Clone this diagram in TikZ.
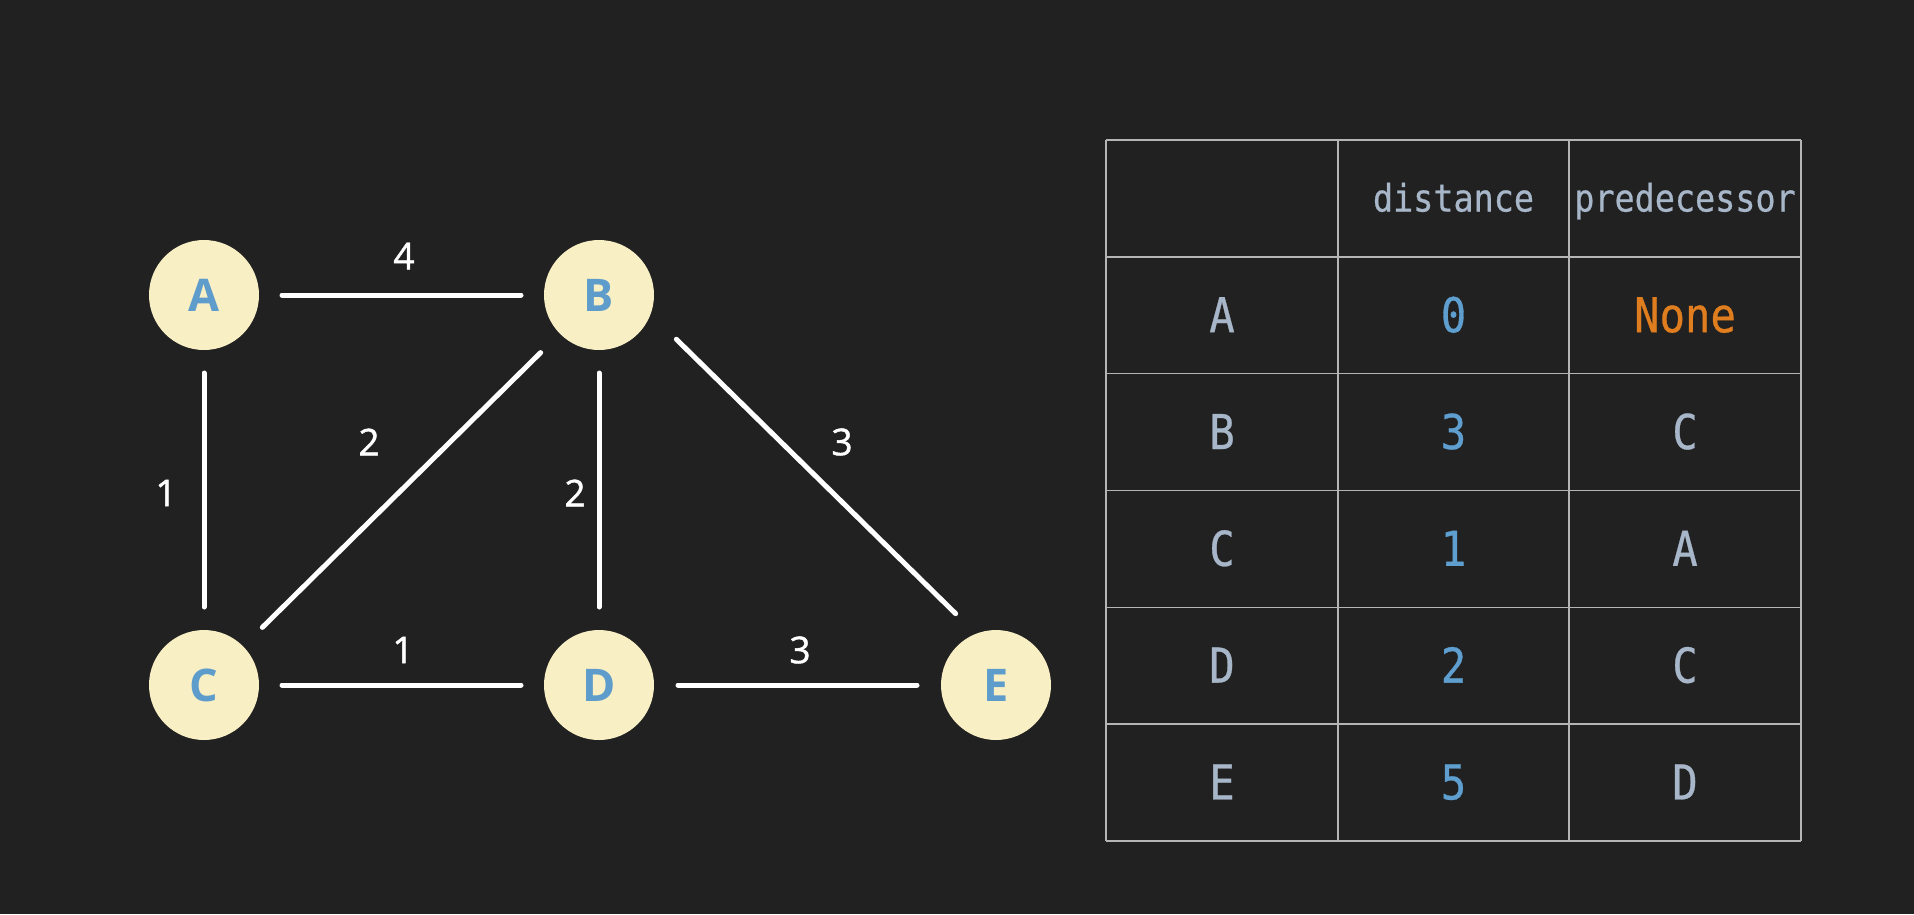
\documentclass[tikz,border=0pt]{standalone}
\usepackage{fontspec}
\setmainfont{Open Sans}
\newfontfamily\monof[FakeStretch=0.88,FakeBold=0.6]{DejaVu Sans Mono}
\newfontfamily\labf[FakeBold=1.2]{Open Sans}
\definecolor{bgc}{HTML}{212121}
\definecolor{cream}{HTML}{F8EFC5}
\definecolor{nodeblue}{HTML}{5E9CCB}
\definecolor{numblue}{HTML}{5E9FD0}
\definecolor{txtgrey}{HTML}{A7B6C8}
\definecolor{orng}{HTML}{E07D1E}
\definecolor{gridc}{HTML}{B5B5B5}
\tikzset{
  vert/.style={circle, minimum size=110pt, inner sep=0pt, outer sep=0pt, fill=cream, text=nodeblue,
    font=\fontsize{45}{45}\selectfont\bfseries},
  edge/.style={draw=white, line width=5pt, line cap=round, shorten <=78pt, shorten >=78pt},
  diag/.style={edge, shorten <=82pt, shorten >=82pt},
  elab/.style={text=white, inner sep=0pt, font=\labf\fontsize{37}{37}\selectfont},
  gridline/.style={draw=gridc, line width=1.4pt},
  hdr/.style={anchor=base, inner sep=0pt, text=txtgrey, font=\monof\fontsize{38}{38}\selectfont},
  cell/.style={anchor=base, inner sep=0pt, text=txtgrey, font=\monof\fontsize{48}{48}\selectfont},
}
\begin{document}
\begin{tikzpicture}[x=1pt,y=-1pt]
\fill[bgc] (0,0) rectangle (1914,914);
\useasboundingbox (0,0) rectangle (1914,914);
% vertices
\node[vert] (A) at (204,295) {A};
\node[vert] (B) at (599,295) {B};
\node[vert] (C) at (204,685) {C};
\node[vert] (D) at (599,685) {D};
\node[vert] (E) at (996,685) {E};
% edges
\draw[edge] (A.center) -- (B.center);
\draw[edge] (A.center) -- (C.center);
\draw[diag] (B.center) -- (C.center);
\draw[edge] (B.center) -- (D.center);
\draw[edge] (C.center) -- (D.center);
\draw[edge, shorten <=79pt, shorten >=79pt] (D.center) -- (E.center);
\draw[edge, shorten <=86pt, shorten >=79pt] ([shift={(16,-16)}]B.center) -- ([shift={(16,-16)}]E.center);
% edge labels
\node[elab] (wAB) at (404,256) {4};
\node[elab] (wAC) at (166,493) {1};
\node[elab] (wBC) at (369,442) {2};
\node[elab] (wBD) at (575,493) {2};
\node[elab] (wBE) at (842,442) {3};
\node[elab] (wCD) at (403,650) {1};
\node[elab] (wDE) at (800,650) {3};
% table grid
\foreach \yy in {140,256.8,373.6,490.4,607.2,724,840.8}
  \draw[gridline] (1106,\yy) -- (1801,\yy);
\foreach \xx in {1106,1338,1569,1801}
  \draw[gridline] (\xx,140) -- (\xx,840.8);
% header
\node[hdr] (hdist) at (1453.5,211.5) {distance};
\node[hdr] (hpred) at (1685,211.5) {predecessor};
% rows
\foreach \nm/\d/\i in {A/0/0, B/3/1, C/1/2, D/2/3, E/5/4}{
  \pgfmathsetmacro{\yb}{256.8+116.8*\i+58.4+17}
  \node[cell] (r\nm) at (1222,\yb) {\nm};
  \node[cell, text=numblue] (d\nm) at (1453.5,\yb) {\d};
}
\node[cell, text=orng] (pA) at (1685,256.8+58.4+17) {None};
\node[cell] (pB) at (1685,373.6+58.4+17) {C};
\node[cell] (pC) at (1685,490.4+58.4+17) {A};
\node[cell] (pD) at (1685,607.2+58.4+17) {C};
\node[cell] (pE) at (1685,724+58.4+17) {D};
\end{tikzpicture}
\end{document}
